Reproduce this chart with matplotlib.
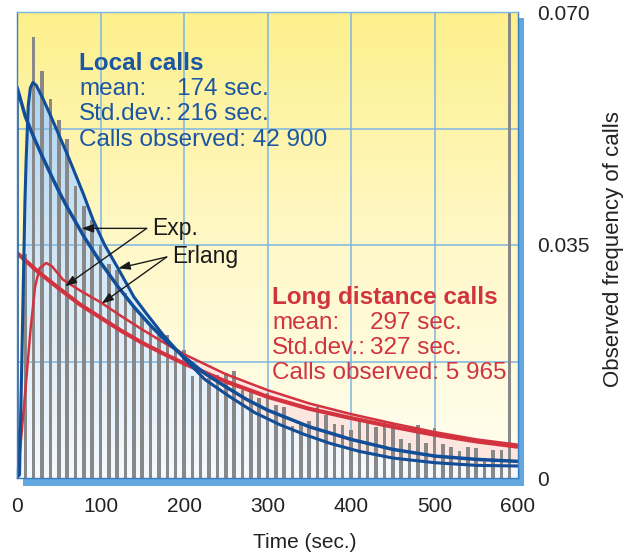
import numpy as np
import matplotlib
matplotlib.use("Agg")
import matplotlib.pyplot as plt
from matplotlib.colors import LinearSegmentedColormap
from matplotlib.patches import Polygon, Rectangle

plt.rcParams['font.family'] = ['Liberation Sans', 'DejaVu Sans']

# observed histogram, 10 sec classes, last class holds the overflow
bin_start = np.arange(0, 600, 10)
freq = [0.0074, 0.0336, 0.0663, 0.0612, 0.0570, 0.0538, 0.0509, 0.0439, 0.0408, 0.0388,
        0.0350, 0.0322, 0.0312, 0.0278, 0.0257, 0.0242, 0.0227, 0.0218, 0.0215, 0.0195,
        0.0192, 0.0153, 0.0153, 0.0150, 0.0155, 0.0157, 0.0160, 0.0132, 0.0130, 0.0120,
        0.0128, 0.0110, 0.0107, 0.0078, 0.0083, 0.0085, 0.0107, 0.0095, 0.0081, 0.0080,
        0.0072, 0.0087, 0.0085, 0.0077, 0.0086, 0.0082, 0.0058, 0.0052, 0.0080, 0.0053,
        0.0075, 0.0051, 0.0047, 0.0040, 0.0047, 0.0045, 0.0030, 0.0042, 0.0042, 0.0720]

# fitted curves
local_exp_t = [0, 0, 10, 20, 30, 40, 50, 60, 80, 100, 120, 140, 160, 180, 200, 225, 250,
               275, 300, 350, 400, 450, 500, 550, 600]
local_exp_v = [0.0, 0.0587, 0.0543, 0.0512, 0.0484, 0.0457, 0.0431, 0.0407, 0.0363, 0.0324,
               0.0289, 0.0257, 0.0229, 0.0204, 0.0182, 0.0157, 0.0137, 0.0118, 0.0102,
               0.0077, 0.0058, 0.0043, 0.0033, 0.0028, 0.0025]
local_erl_t = [0, 3, 6, 9.5, 11, 13.5, 16, 19, 23, 31, 40, 51, 60, 71, 80, 91, 105, 121,
               140, 155, 175, 200, 225, 255, 285, 315, 345, 375, 410, 450, 500, 550, 600]
local_erl_v = [0.0, 0.0005, 0.019, 0.0415, 0.048, 0.0560, 0.0586, 0.0594, 0.0590, 0.0570,
               0.0545, 0.0513, 0.0487, 0.0453, 0.0425, 0.0388, 0.0350, 0.0315, 0.0272,
               0.0247, 0.0215, 0.0180, 0.0148, 0.0122, 0.0098, 0.0080, 0.0065, 0.0052,
               0.0040, 0.0030, 0.0023, 0.0019, 0.0018]
long_exp_t = [0, 25, 50, 75, 100, 125, 150, 175, 200, 250, 300, 350, 400, 450, 500, 550, 600]
long_exp_v = [0.0338, 0.0310, 0.0285, 0.0261, 0.0241, 0.0221, 0.0203, 0.0187, 0.0172,
              0.0145, 0.0122, 0.0104, 0.0090, 0.0077, 0.0065, 0.0055, 0.0047]
long_erl_t = [0, 5, 10.8, 16, 21.6, 27, 35, 42, 55, 75, 100, 125, 150, 175, 200, 250, 300,
              350, 400, 450, 500, 550, 600]
long_erl_v = [0.0, 0.006, 0.0143, 0.022, 0.0287, 0.0315, 0.0323, 0.0318, 0.0298, 0.0282,
              0.0264, 0.0243, 0.0223, 0.0204, 0.0186, 0.0156, 0.0132, 0.0112, 0.0096,
              0.0082, 0.0069, 0.0058, 0.0050]

xticks = [0, 100, 200, 300, 400, 500, 600]
xticklabels = ['0', '100', '200', '300', '400', '500', '600']
yticks = [0, 0.035, 0.070]
yticklabels = ['0', '0.035', '0.070']

BLUE = '#124d98'
RED = '#d2333f'
BLUE_TXT = '#1b56a4'
RED_TXT = '#cf3541'

W, H = 635, 559
fig = plt.figure(figsize=(W / 100, H / 100), dpi=100)
x0, x1, y0, y1 = 17, 518, 12, 478
ax = fig.add_axes([x0 / W, 1 - y1 / H, (x1 - x0) / W, (y1 - y0) / H])
ax.set_xlim(0, 600)
ax.set_ylim(0, 0.070)

# yellow background gradient
bg = LinearSegmentedColormap.from_list('bg', ['#fffef2', '#fff8c8', '#fdf08c'])
grad = np.linspace(0, 1, 256).reshape(-1, 1)
ax.imshow(grad, extent=[0, 600, 0, 0.070], aspect='auto', cmap=bg, origin='lower', zorder=0)

# pink area under the long-distance curve in the tail
lt = np.array(long_erl_t)
lv = np.array(long_erl_v)
m = lt >= 150
pink = Polygon(np.column_stack([np.r_[lt[m], lt[m][::-1]], np.r_[lv[m], np.zeros(m.sum())]]),
               closed=True, facecolor='#fde6df', edgecolor='none', zorder=1)
ax.add_patch(pink)

# light blue gradient under the local Erlang curve
et = np.array(local_erl_t)
ev = np.array(local_erl_v)
clip = Polygon(np.column_stack([np.r_[et, et[::-1]], np.r_[ev, np.zeros(len(et))]]),
               closed=True, facecolor='none', edgecolor='none')
ax.add_patch(clip)
bl = LinearSegmentedColormap.from_list('bl', ['#f4f9fe', '#d5e9f8', '#a9d2f0'])
im = ax.imshow(grad, extent=[0, 600, 0, 0.062], aspect='auto', cmap=bl, origin='lower', zorder=2)
im.set_clip_path(clip)

# grid
for v in xticks[1:-1]:
    ax.axvline(v, color='#7db6e2', lw=1.1, zorder=3)
for v in [0.0175, 0.035, 0.0525]:
    ax.axhline(v, color='#7db6e2', lw=1.1, zorder=3)

ax.bar(bin_start, freq, width=4.3, color='#888888', zorder=4)

ax.plot(long_exp_t, long_exp_v, color=RED, lw=3.0, zorder=5, solid_capstyle='butt')
ax.plot(long_erl_t, long_erl_v, color=RED, lw=1.8, zorder=5)
ax.plot(local_exp_t, local_exp_v, color=BLUE, lw=2.5, zorder=6, solid_capstyle='butt')
ax.plot(local_erl_t, local_erl_v, color=BLUE, lw=2.2, zorder=6)

# frame and blue shadow
for s in ax.spines.values():
    s.set_color('#3b7fc2')
    s.set_linewidth(1.0)
    s.set_zorder(7)
ax.spines['top'].set_color('#7db6e2')
sh = '#62a8df'
ax.add_patch(Rectangle((1.0, -8 / 466), 6 / 501, 1 - 6 / 466 + 8 / 466, transform=ax.transAxes,
                       facecolor=sh, edgecolor='none', clip_on=False, zorder=1))
ax.add_patch(Rectangle((6 / 501, -8 / 466), 1, 8 / 466, transform=ax.transAxes,
                       facecolor=sh, edgecolor='none', clip_on=False, zorder=1))

ax.set_xticks(xticks)
ax.set_xticklabels(xticklabels)
ax.tick_params(axis='x', direction='in', length=7, width=1, color='#2f6db0', pad=14,
               labelsize=15, labelcolor='#222222')
ax.yaxis.tick_right()
ax.set_yticks(yticks)
ax.set_yticklabels(yticklabels)
ax.tick_params(axis='y', length=0, pad=13.5, labelsize=15, labelcolor='#222222')

# info texts
fs = 17.5
ax.text(74.3, 0.06129, 'Local calls', color=BLUE_TXT, fontsize=fs, fontweight='bold', zorder=8)
ax.text(74.3, 0.05753, 'mean:', color=BLUE_TXT, fontsize=fs, zorder=8)
ax.text(191.6, 0.05753, '174 sec.', color=BLUE_TXT, fontsize=fs, zorder=8)
ax.text(74.3, 0.05378, 'Std.dev.:', color=BLUE_TXT, fontsize=fs, zorder=8)
ax.text(191.6, 0.05378, '216 sec.', color=BLUE_TXT, fontsize=fs, zorder=8)
ax.text(74.3, 0.04987, 'Calls observed: 42 900', color=BLUE_TXT, fontsize=fs, zorder=8)

ax.text(305.4, 0.02614, 'Long distance calls', color=RED_TXT, fontsize=fs, fontweight='bold', zorder=8)
ax.text(305.4, 0.02238, 'mean:', color=RED_TXT, fontsize=fs, zorder=8)
ax.text(422.8, 0.02238, '297 sec.', color=RED_TXT, fontsize=fs, zorder=8)
ax.text(305.4, 0.01863, 'Std.dev.:', color=RED_TXT, fontsize=fs, zorder=8)
ax.text(422.8, 0.01863, '327 sec.', color=RED_TXT, fontsize=fs, zorder=8)
ax.text(305.4, 0.01487, 'Calls observed: 5 965', color=RED_TXT, fontsize=fs, zorder=8)

# arrows to the curves
ax.text(161.3, 0.0365, 'Exp.', color='#1a1a1a', fontsize=16.5, zorder=8)
ax.text(185.6, 0.0323, 'Erlang', color='#1a1a1a', fontsize=16.5, zorder=8)
arrow = dict(arrowstyle='-|>,head_length=0.7,head_width=0.25', color='#1a1a1a', lw=1.0,
             shrinkA=0, shrinkB=0)
for tip in [(77.5, 0.0375), (57.5, 0.0288)]:
    ax.annotate('', xy=tip, xytext=(155.3, 0.0375), arrowprops=arrow, zorder=8)
for tip in [(121.3, 0.0315), (101.4, 0.0262)]:
    ax.annotate('', xy=tip, xytext=(179.3, 0.0332), arrowprops=arrow, zorder=8)

fig.text(305 / W, 1 - 543 / H, 'Time (sec.)', ha='center', va='center', fontsize=15,
         color='#222222')
fig.text(613 / W, 1 - 249 / H, 'Observed frequency of calls', ha='center', va='center',
         rotation=90, fontsize=16, color='#222222')

fig.savefig('out.png', dpi=100)
